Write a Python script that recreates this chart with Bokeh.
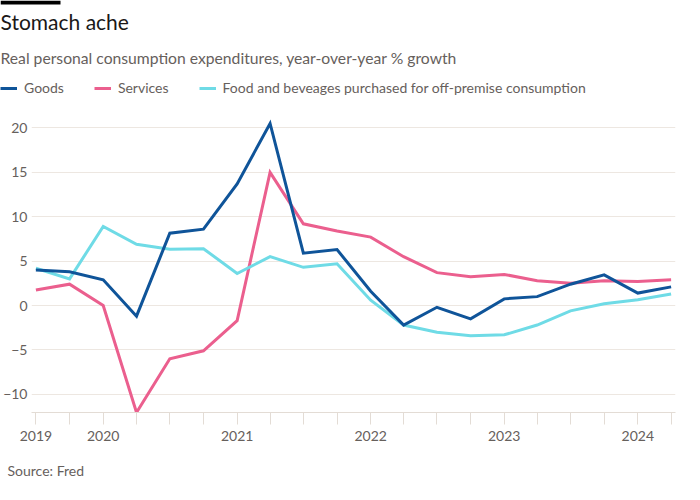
import pandas as pd
from bokeh.plotting import figure
from bokeh.layouts import column
from bokeh.models import (ColumnDataSource, Range1d, FixedTicker, Legend,
                          LegendItem, Title, Label, BoxAnnotation)
from bokeh.embed import file_html
from bokeh.resources import INLINE

# ---- data ----
quarters = ["2019-07-01", "2019-10-01", "2020-01-01", "2020-04-01", "2020-07-01",
            "2020-10-01", "2021-01-01", "2021-04-01", "2021-07-01", "2021-10-01",
            "2022-01-01", "2022-04-01", "2022-07-01", "2022-10-01", "2023-01-01",
            "2023-04-01", "2023-07-01", "2023-10-01", "2024-01-01", "2024-04-01"]
goods = [4.0, 3.8, 2.9, -1.2, 8.15, 8.6, 13.7, 20.5, 5.9, 6.3,
         1.6, -2.2, -0.2, -1.5, 0.75, 1.0, 2.4, 3.45, 1.4, 2.1]
services = [1.75, 2.4, 0.0, -12.05, -6.0, -5.1, -1.7, 15.0, 9.2, 8.4,
            7.7, 5.5, 3.7, 3.25, 3.5, 2.8, 2.5, 2.8, 2.7, 2.9]
food = [4.2, 3.0, 8.9, 6.9, 6.35, 6.4, 3.6, 5.5, 4.3, 4.7,
        0.6, -2.2, -3.0, -3.4, -3.3, -2.2, -0.6, 0.2, 0.65, 1.3]
series_cols = ["goods", "services", "food"]
series_names = ["Goods", "Services", "Food and beveages purchased for off-premise consumption"]
series_colors = ["#0f5499", "#eb5f8e", "#6fdbe6"]
year_labels = {"2019-07-01": "2019", "2020-01-01": "2020", "2021-01-01": "2021",
               "2022-01-01": "2022", "2023-01-01": "2023", "2024-01-01": "2024"}
y_ticks = [-10, -5, 0, 5, 10, 15, 20]

FONT = "Lato"
GREY = "#66605c"
LEFT = 24
HEAD_H = 100

dates = pd.to_datetime(quarters)
src = ColumnDataSource(dict(x=dates, goods=goods, services=services, food=food))

# ---------------- header: bar, title, subtitle, legend ----------------
head = figure(width=684, height=HEAD_H, output_backend="svg", toolbar_location=None,
              min_border=0, x_axis_location=None, y_axis_location=None,
              x_range=Range1d(0, 1), y_range=Range1d(0, 1),
              outline_line_color=None, background_fill_color="white",
              border_fill_color="white")
head.frame_align = False
head.xgrid.visible = False
head.ygrid.visible = False

head.add_layout(BoxAnnotation(left=0, right=60, top=HEAD_H, bottom=HEAD_H - 4,
                              left_units="screen", right_units="screen",
                              top_units="screen", bottom_units="screen",
                              fill_color="black", fill_alpha=1, line_color=None))
head.add_layout(Label(x=0, y=HEAD_H - 21, x_units="screen", y_units="screen",
                      text="Stomach ache", text_font=FONT, text_font_size="21px",
                      text_color="#1a1817", text_baseline="middle"))
head.add_layout(Label(x=0, y=HEAD_H - 57, x_units="screen", y_units="screen",
                      text="Real personal consumption expenditures, year-over-year % growth",
                      text_font=FONT, text_font_size="15.7px", text_color=GREY,
                      text_baseline="middle"))

# legend swatches: the same series, drawn outside the header's (empty) view
swatches = [head.line("x", c, source=src, line_color=col, line_width=3)
            for c, col in zip(series_cols, series_colors)]
legend = Legend(items=[LegendItem(label=n, renderers=[r]) for n, r in zip(series_names, swatches)],
                orientation="horizontal", location=(0, 4),
                background_fill_alpha=0, border_line_color=None,
                padding=0, margin=0, spacing=30, glyph_width=17, glyph_height=14,
                label_standoff=7, label_text_font=FONT,
                label_text_font_size="14px", label_text_color=GREY,
                label_height=14)
head.add_layout(legend, "center")

# ---------------- main chart ----------------
TOP, FRAME_H, BOTTOM = 15, 297, 86
p = figure(width=684, height=TOP + FRAME_H + BOTTOM, x_axis_type="datetime",
           output_backend="svg", toolbar_location=None,
           min_border_left=LEFT, min_border_right=9,
           min_border_top=TOP, min_border_bottom=BOTTOM,
           background_fill_color="white", border_fill_color="white",
           outline_line_color=None)
p.frame_align = False

pad = pd.Timedelta(days=12)
p.x_range = Range1d(dates[0] - pad, dates[-1] + pad)
p.y_range = Range1d(-12.05, 21.4)

renderers = []
for c, color in zip(series_cols, series_colors):
    renderers.append(p.line("x", c, source=src, line_color=color, line_width=3,
                            line_join="miter"))
renderers[0].level = "overlay"

tick_ms = [d.value / 1e6 for d in dates]
p.xaxis.ticker = FixedTicker(ticks=tick_ms)
p.xaxis.major_label_overrides = {ms: year_labels.get(q, "") for q, ms in zip(quarters, tick_ms)}
p.xaxis.axis_line_color = "#e3dcd5"
p.xaxis.major_tick_line_color = "#e3dcd5"
p.xaxis.major_tick_out = 12
p.xaxis.major_tick_in = 0
p.xaxis.minor_tick_line_color = None
p.xaxis.axis_label_standoff = 0
p.xaxis.major_label_standoff = 6
p.xaxis.major_label_text_font = FONT
p.xaxis.major_label_text_font_size = "14px"
p.xaxis.major_label_text_color = GREY

p.yaxis.ticker = FixedTicker(ticks=y_ticks)
p.yaxis.axis_line_color = None
p.yaxis.major_tick_line_color = None
p.yaxis.minor_tick_line_color = None
p.yaxis.major_tick_out = 0
p.yaxis.major_tick_in = 0
p.yaxis.axis_label_standoff = 0
p.yaxis.major_label_standoff = 4
p.yaxis.major_label_text_font = FONT
p.yaxis.major_label_text_font_size = "14px"
p.yaxis.major_label_text_color = GREY

p.xgrid.grid_line_color = None
p.ygrid.grid_line_color = "#ede7e1"
p.ygrid.grid_line_width = 1

p.add_layout(Title(text="Source: Fred", align="left", offset=-LEFT, standoff=32,
                   text_font=FONT, text_font_size="14px", text_font_style="normal",
                   text_color=GREY), "below")

layout = column(head, p, spacing=0)
open("out.html", "w").write(file_html(layout, INLINE))
